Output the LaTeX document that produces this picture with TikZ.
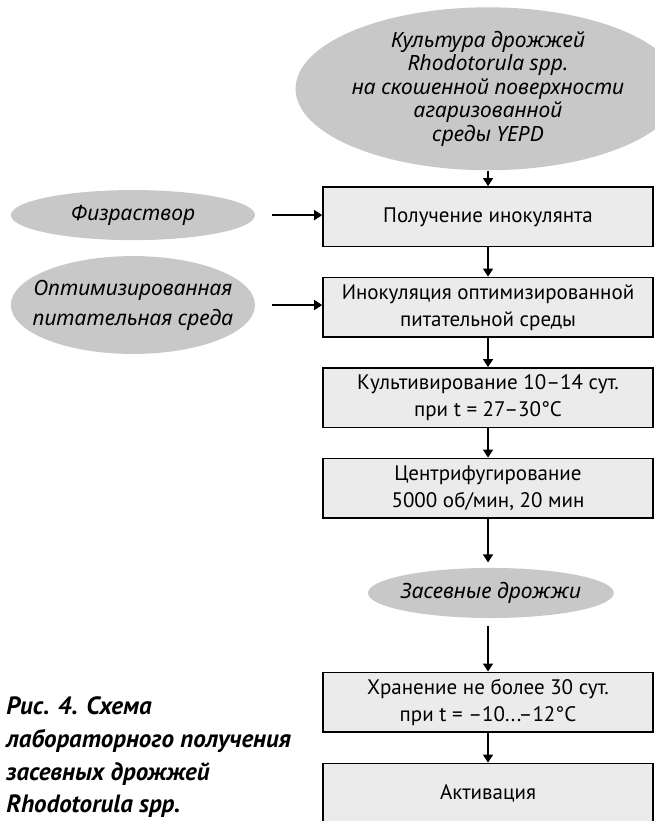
\documentclass[tikz,border=0pt]{standalone}
\usepackage{fontspec}
\setmainfont{PT Sans}
\newfontfamily\ovalfont{Noto Sans}
\usepackage{xcolor}
\usetikzlibrary{arrows.meta, positioning, shapes.geometric}
\definecolor{ovalgray}{HTML}{C8C8C8}
\definecolor{boxgray}{HTML}{EBEBEB}

\begin{document}
\begin{tikzpicture}[
    stage/.style={rectangle, minimum width=5.8cm, minimum height=1.05cm, draw=black, line width=0.8pt, fill=boxgray, text centered, align=center, font=\fontsize{10.5}{13.5}\selectfont},
    oval/.style={ellipse, fill=ovalgray, inner sep=0pt, align=center, font=\ovalfont\fontsize{10.5}{15}\selectfont\itshape},
    ovaltext/.style={inner sep=0pt, align=center, font=\ovalfont\fontsize{10.5}{15}\selectfont\itshape},
    arr/.style={-{Triangle[length=4pt, width=5pt]}, line width=0.7pt}
]
    \useasboundingbox (-8.576, 0) rectangle (2.917, -14.427);

    % Source culture
    \node[oval, minimum width=5.45cm, minimum height=2.67cm, font=\ovalfont\fontsize{10.5}{11.75}\selectfont\itshape] (culture) at (0, -1.56) {Культура дрожжей\\Rhodotorula spp.\\на скошенной поверхности\\агаризованной\\среды YEPD};

    % Side inputs
    \node[oval, minimum width=4.29cm, minimum height=0.88cm] (saline) at (-6.24, -3.78) {Физраствор};
    \node[oval, minimum width=4.29cm, minimum height=1.72cm] (medium) at (-6.24, -5.36) {};
    \node[ovaltext] (medium-txt) at (medium) {Оптимизированная\\питательная среда};

    % Process steps
    \node[stage] (inoc) at (0, -3.81) {Получение инокулянта};
    \node[stage] (inocul) at (0, -5.40) {Инокуляция оптимизированной\\питательной среды};
    \node[stage] (cult) at (0, -6.99) {Культивирование 10–14 сут.\\при t = 27–30°C};
    \node[stage] (centr) at (0, -8.58) {Центрифугирование\\5000 об/мин, 20 мин};
    \node[oval, minimum width=4.32cm, minimum height=0.88cm] (seed) at (0.05, -10.42) {};
    \node[ovaltext] (seed-txt) at (seed) {Засевные дрожжи};
    \node[stage] (store) at (0, -12.34) {Хранение не более 30 сут.\\при t = –10...–12°C};
    \node[stage] (activ) at (0, -13.94) {Активация};

    % Caption
    \node[anchor=north west, inner sep=0pt, align=left, font=\fontsize{12.5}{16.3}\selectfont\bfseries\itshape] (caption) at (-8.47, -12.24) {Рис. 4. Схема\\лабораторного получения\\засевных дрожжей\\Rhodotorula spp.};

    \draw[arr] (culture) -- (inoc);
    \draw[arr, shorten <=0.3cm] (saline.east) -- (saline.east -| inoc.west);
    \draw[arr, shorten <=0.3cm] (medium.east) -- (medium.east -| inocul.west);
    \draw[arr] (inoc) -- (inocul);
    \draw[arr] (inocul) -- (cult);
    \draw[arr] (cult) -- (centr);
    \draw[arr, shorten >=0.09cm] (centr) -- (centr |- seed.north);
    \draw[arr, shorten <=0.14cm] (centr |- seed.south) -- (store);
    \draw[arr] (store) -- (activ);
\end{tikzpicture}
\end{document}
